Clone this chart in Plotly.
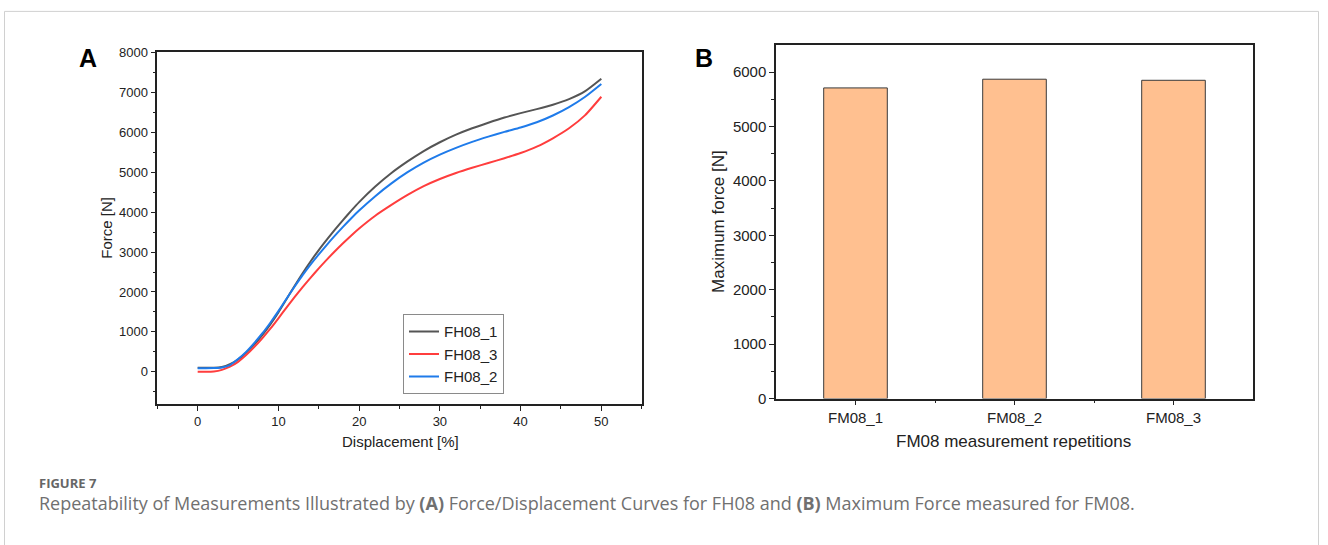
import plotly.graph_objects as go

# ---------------- data ----------------
disp = [0, 1, 2, 3, 4, 5, 6, 7, 8, 9, 10, 11, 12, 13, 14, 15, 16, 17, 18, 19, 20,
        22, 24, 26, 28, 30, 32, 34, 36, 38, 40, 42, 44, 46, 48, 50]
fh08_1 = [100, 100, 100, 120, 190, 310, 480, 680, 920, 1190, 1490, 1820, 2150, 2470, 2770,
          3050, 3310, 3560, 3800, 4030, 4250, 4640, 4980, 5270, 5530, 5750, 5940, 6100, 6240,
          6370, 6480, 6580, 6690, 6830, 7030, 7340]
fh08_3 = [0, 0, 10, 50, 130, 250, 420, 620, 840, 1080, 1340, 1610, 1870, 2120, 2360, 2590,
          2810, 3020, 3220, 3410, 3590, 3910, 4180, 4430, 4650, 4830, 4980, 5110, 5230, 5350,
          5480, 5640, 5850, 6100, 6430, 6890]
fh08_2 = [90, 90, 95, 110, 170, 320, 500, 720, 960, 1230, 1520, 1830, 2130, 2420, 2690,
          2940, 3180, 3410, 3630, 3840, 4040, 4400, 4720, 5000, 5240, 5440, 5610, 5760, 5890,
          6010, 6120, 6250, 6420, 6630, 6890, 7210]

bar_labels = ["FM08_1", "FM08_2", "FM08_3"]
bar_values = [5710, 5870, 5850]
bar_pos = [0, 1, 2]

W, H = 1328, 545
FONT = "Liberation Sans, Arial, sans-serif"

fig = go.Figure()

line_specs = [("FH08_1", fh08_1, "#555555"),
              ("FH08_3", fh08_3, "#FF3D3D"),
              ("FH08_2", fh08_2, "#1F7BEA")]
for name, vals, col in line_specs:
    fig.add_trace(go.Scatter(x=disp, y=vals, name=name, mode="lines",
                             line=dict(color=col, width=2, shape="spline", smoothing=0.6),
                             xaxis="x", yaxis="y"))

fig.add_trace(go.Bar(x=bar_pos, y=bar_values, width=0.4, showlegend=False,
                     marker=dict(color="#FFC090", line=dict(color="#3a3a3a", width=1)),
                     xaxis="x2", yaxis="y2"))

def px_x(p):
    return p / W

def px_y(p):
    return 1 - p / H

axis_common = dict(showline=True, linecolor="#222222", linewidth=1.5, mirror=True,
                   ticks="outside", ticklen=5, tickwidth=1.2, tickcolor="#222222",
                   showgrid=False, zeroline=False, color="#222222")

fig.update_layout(
    width=W, height=H,
    margin=dict(l=0, r=0, t=0, b=0),
    paper_bgcolor="white", plot_bgcolor="white",
    font=dict(family=FONT, color="#222222"),
    xaxis=dict(domain=[px_x(157.3), px_x(641.7)], range=[-5, 55], anchor="y",
               tickvals=[0, 10, 20, 30, 40, 50], tickfont=dict(size=13),
               minor=dict(tickmode="array", tickvals=[-5, 5, 15, 25, 35, 45, 55],
                          ticks="outside", ticklen=3, tickcolor="#222222"),
               **axis_common),
    yaxis=dict(domain=[px_y(408), px_y(46.7)], range=[-800, 8000], anchor="x",
               tickvals=[0, 1000, 2000, 3000, 4000, 5000, 6000, 7000, 8000],
               tickfont=dict(size=13),
               minor=dict(tickmode="array",
                          tickvals=[-500, 500, 1500, 2500, 3500, 4500, 5500, 6500, 7500],
                          ticks="outside", ticklen=3, tickcolor="#222222"),
               **axis_common),
    xaxis2=dict(domain=[px_x(776), px_x(1253)], range=[-0.5, 2.5], anchor="y2",
                tickvals=bar_pos, ticktext=bar_labels, tickfont=dict(size=15),
                minor=dict(tickmode="array", tickvals=[0.5, 1.5],
                           ticks="outside", ticklen=3, tickcolor="#222222"),
                **axis_common),
    yaxis2=dict(domain=[px_y(402.7), px_y(39)], range=[0, 6500], anchor="x2",
                tickvals=[0, 1000, 2000, 3000, 4000, 5000, 6000], tickfont=dict(size=15),
                minor=dict(tickmode="array",
                           tickvals=[500, 1500, 2500, 3500, 4500, 5500],
                           ticks="outside", ticklen=3, tickcolor="#222222"),
                **axis_common),
    legend=dict(x=px_x(403), y=px_y(316), xanchor="left", yanchor="top",
                bgcolor="white", bordercolor="#8a8a8a", borderwidth=1,
                font=dict(size=15, family=FONT, color="#222222"),
                itemwidth=30, tracegroupgap=0),
    showlegend=True,
)

def note(text, x, y, size, color="#222222", family=FONT, angle=0, xanchor="center"):
    return dict(text=text, x=px_x(x), y=px_y(y), xref="paper", yref="paper",
                xanchor=xanchor, yanchor="middle", showarrow=False, textangle=angle,
                font=dict(size=size, family=family, color=color))

ann = [
    note("<b>A</b>", 88, 52, 25, color="#000000"),
    note("<b>B</b>", 704, 52, 25, color="#000000"),
    note("Force [N]", 107, 227, 15, angle=-90),
    note("Displacement [%]", 400, 447, 15),
    note("Maximum force [N]", 719, 221, 17, angle=-90),
    note("FM08 measurement repetitions", 1014, 447, 17),
    note("<b>FIGURE 7</b>", 37, 489, 13, color="#666666",
         family="Open Sans, sans-serif", xanchor="left"),
    note("Repeatability of Measurements Illustrated by <b>(A)</b> Force/Displacement "
         "Curves for FH08 and <b>(B)</b> Maximum Force measured for FM08.",
         37, 510, 18, color="#707070", family="Open Sans, sans-serif", xanchor="left"),
]
fig.update_layout(annotations=ann)

fig.add_shape(type="rect", xref="paper", yref="paper",
              x0=px_x(4.5), x1=px_x(1318.5), y0=-0.2, y1=px_y(4.5),
              line=dict(color="#d0d0d0", width=1), fillcolor="rgba(0,0,0,0)", layer="below")

fig.write_html("out.html", config={"displayModeBar": False},
               post_script="document.body.style.margin='0';document.body.style.padding='0';"
                           "document.body.style.overflow='hidden';")
